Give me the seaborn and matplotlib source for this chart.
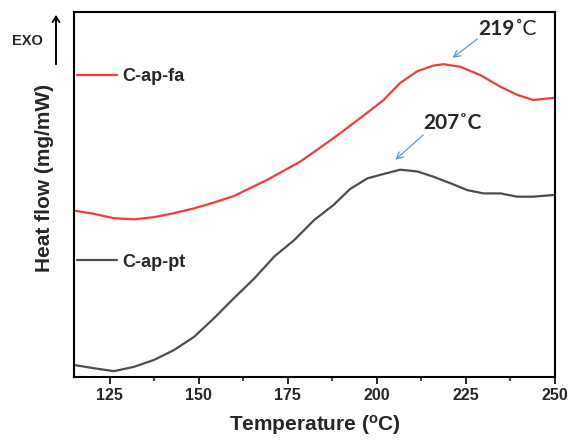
import numpy as np
import pandas as pd
import matplotlib
matplotlib.use("Agg")
import matplotlib.pyplot as plt
import seaborn as sns

sns.set_theme(style="ticks")
plt.rcParams["font.family"] = ["Liberation Sans", "DejaVu Sans"]
plt.rcParams["mathtext.fontset"] = "custom"
plt.rcParams["mathtext.rm"] = "Liberation Sans"
plt.rcParams["mathtext.bf"] = "Liberation Sans:bold"

# DSC curves (heat flow in arbitrary units)
temp_fa = [115.0, 120.6, 126.2, 131.9, 137.5, 143.1, 148.7, 154.3, 159.9, 169.2,
           178.5, 187.8, 195.3, 201.8, 206.6, 211.4, 215.8, 218.7, 223.4, 229.1,
           234.7, 239.4, 243.9, 250.0]
flow_fa = [4.56, 4.47, 4.35, 4.32, 4.38, 4.49, 4.62, 4.78, 4.96, 5.40,
           5.90, 6.54, 7.09, 7.58, 8.06, 8.38, 8.53, 8.57, 8.50, 8.27,
           7.95, 7.73, 7.59, 7.65]

temp_pt = [115.0, 120.6, 126.2, 131.9, 137.5, 143.1, 148.7, 154.3, 159.9, 165.6,
           171.2, 176.8, 182.4, 187.8, 192.5, 197.3, 201.8, 206.6, 211.4, 215.8,
           220.6, 225.4, 229.9, 234.7, 239.4, 243.9, 250.0]
flow_pt = [0.33, 0.24, 0.16, 0.28, 0.47, 0.74, 1.10, 1.61, 2.16, 2.70,
           3.30, 3.75, 4.30, 4.71, 5.15, 5.44, 5.56, 5.68, 5.63, 5.49,
           5.31, 5.12, 5.03, 5.03, 4.94, 4.94, 4.99]

peak_fa = 219
peak_pt = 207
xticks = [125, 150, 175, 200, 225, 250]

red = "#f03c3c"
grey = "#4d4d4d"
blue = "#5b9bd5"

df = pd.concat([
    pd.DataFrame({"T": temp_fa, "H": flow_fa, "sample": "C-ap-fa"}),
    pd.DataFrame({"T": temp_pt, "H": flow_pt, "sample": "C-ap-pt"}),
])

fig = plt.figure(figsize=(5.68, 4.41), dpi=100)
ax = fig.add_axes([74 / 568, 1 - 377 / 441, 481 / 568, 365 / 441])

sns.lineplot(data=df, x="T", y="H", hue="sample",
             palette={"C-ap-fa": red, "C-ap-pt": grey},
             linewidth=1.6, legend=False, ax=ax, sort=False)

ax.set_xlim(115, 250)
ax.set_ylim(0, 10)
ax.set_xticks(xticks)
ax.set_xticks([137.5, 162.5, 187.5, 212.5, 237.5], minor=True)
ax.set_yticks([])
ax.tick_params(axis="x", which="major", direction="out", length=5, width=1.4,
               labelsize=11.5, pad=3)
ax.tick_params(axis="x", which="minor", direction="out", length=3, width=1.2)
for lab in ax.get_xticklabels():
    lab.set_fontweight("bold")
for sp in ax.spines.values():
    sp.set_visible(True)
    sp.set_linewidth(1.5)
    sp.set_color("black")

ax.set_xlabel(r"Temperature ($\mathbf{^{o}}$C)", fontsize=15, fontweight="bold",
              labelpad=7)
ax.set_ylabel("")
fig.text(45 / 568, 1 - 178 / 441, "Heat flow (mg/mW)", rotation=90,
         fontsize=15, fontweight="bold", ha="center", va="center")

# inline labels
line_fa = ax.lines[0]
line_pt = ax.lines[1]
leg1 = ax.legend([line_fa], ["C-ap-fa"], loc="center left",
                 bbox_to_anchor=(0.006, 0.822), frameon=False, borderpad=0,
                 borderaxespad=0, handlelength=2.2, handletextpad=0.3,
                 prop={"weight": "bold", "size": 13})
ax.add_artist(leg1)
ax.legend([line_pt], ["C-ap-pt"], loc="center left",
          bbox_to_anchor=(0.006, 0.315), frameon=False, borderpad=0,
          borderaxespad=0, handlelength=2.2, handletextpad=0.3,
          prop={"weight": "bold", "size": 13})

# peak annotations
arrow = dict(arrowstyle="->", color=blue, lw=0.9, shrinkA=0, shrinkB=0)
ax.annotate("", xy=(221.2, 8.74), xytext=(228.2, 9.26), arrowprops=arrow)
ax.text(228.5, 9.37, f"{peak_fa}", fontsize=15, fontweight="bold",
        family="Lato", ha="left", va="baseline")
ax.text(238.6, 9.37, "\u02daC", fontsize=15, family="Lato",
        ha="left", va="baseline")
ax.annotate("", xy=(205.2, 5.95), xytext=(213.0, 6.63), arrowprops=arrow)
ax.text(213.0, 6.79, f"{peak_pt}\u02daC", fontsize=15, fontweight="bold",
        family="Lato", ha="left", va="baseline")

# EXO marker
fig.text(12 / 568, 1 - 41 / 441, "EXO", fontsize=10.5, fontweight="bold",
         ha="left", va="center")
fig.add_artist(matplotlib.patches.FancyArrowPatch(
    (56 / 568, 1 - 67 / 441), (56 / 568, 1 - 12 / 441),
    transform=fig.transFigure, arrowstyle="->,head_length=4,head_width=2.5",
    color="black", lw=1.4, mutation_scale=1))

fig.savefig("out.png", dpi=100)
